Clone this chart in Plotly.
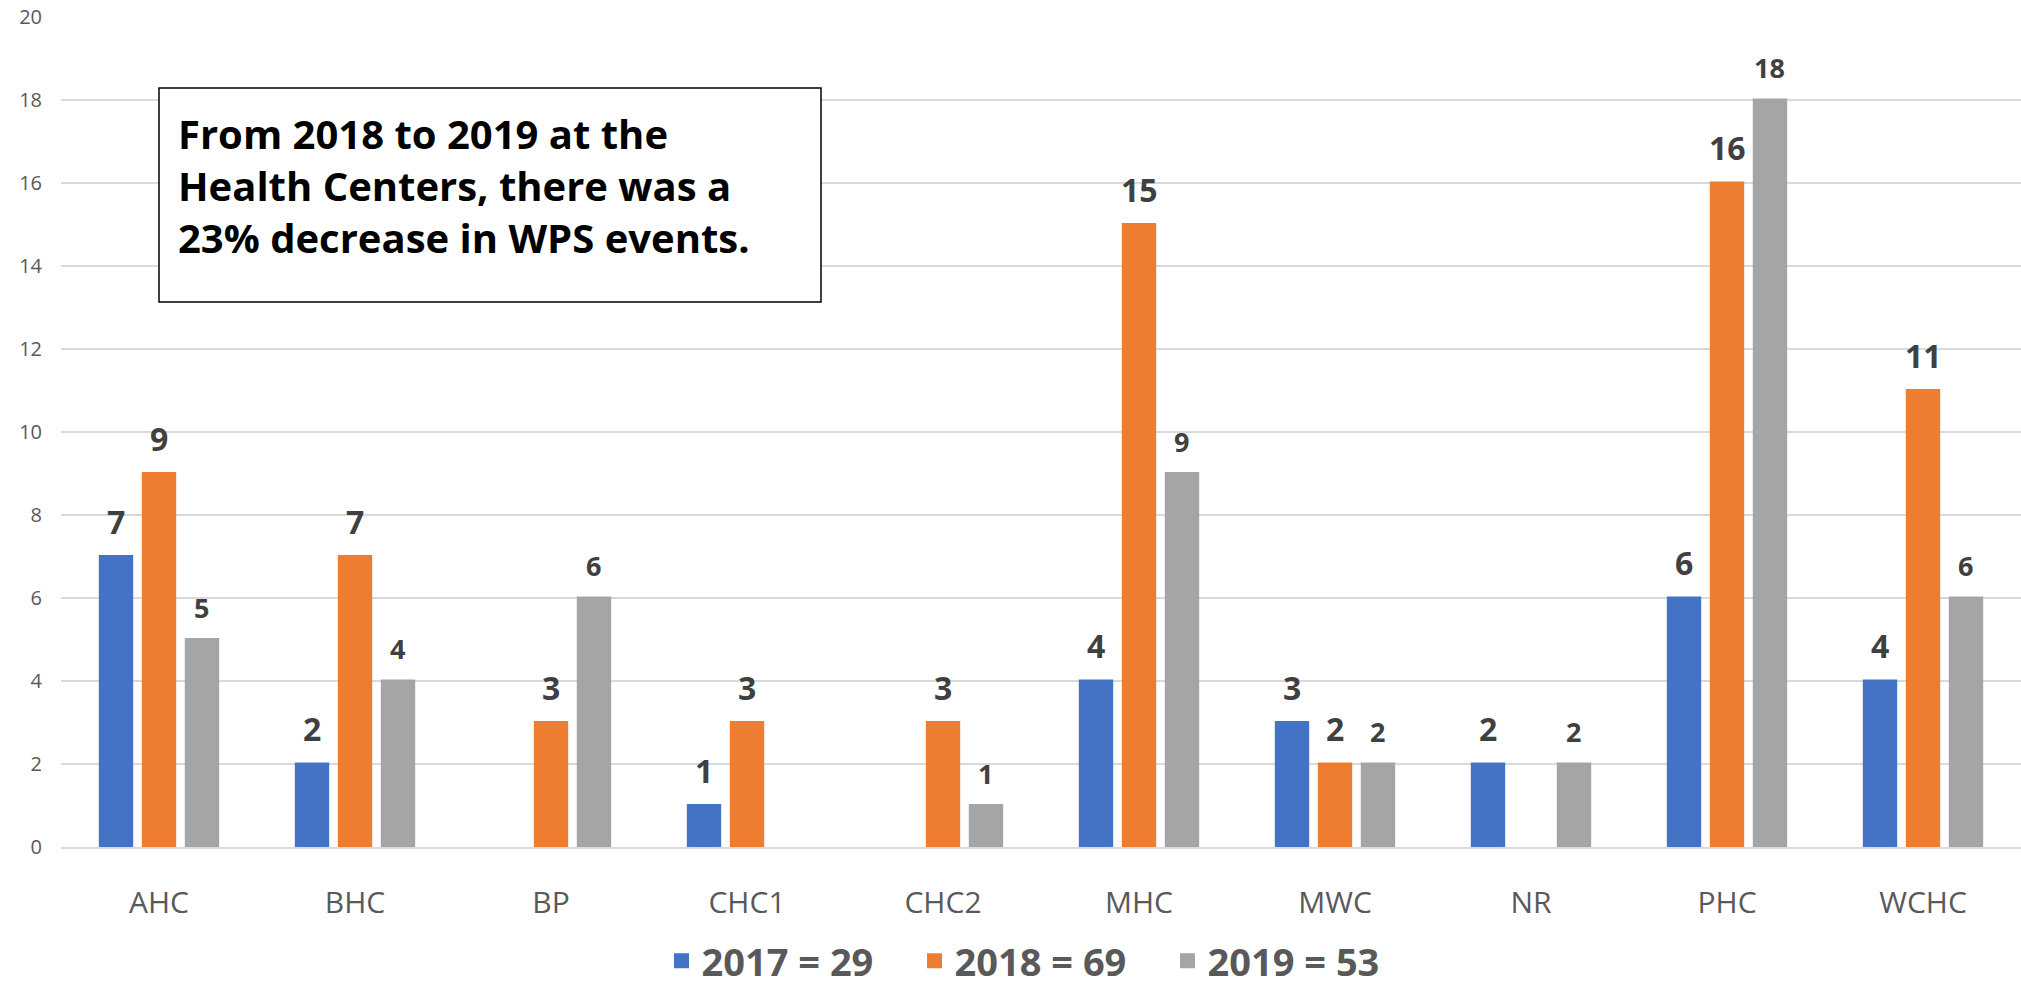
import plotly.graph_objects as go

categories = ["AHC", "BHC", "BP", "CHC1", "CHC2", "MHC", "MWC", "NR", "PHC", "WCHC"]
series_names = ["2017 = 29", "2018 = 69", "2019 = 53"]
values_2017 = [7, 2, None, 1, None, 4, 3, 2, 6, 4]
values_2018 = [9, 7, 3, 3, 3, 15, 2, None, 16, 11]
values_2019 = [5, 4, 6, None, 1, 9, 2, 2, 18, 6]
y_ticks = [0, 2, 4, 6, 8, 10, 12, 14, 16, 18, 20]
note_lines = ["From 2018 to 2019 at the", "Health Centers, there was a", "23% decrease in WPS events."]

colors = ["#4472C4", "#ED7D31", "#A5A5A5"]
label_sizes = [32, 32, 27]
all_values = [values_2017, values_2018, values_2019]

W, H = 2021, 986
BARGAP = 0.342
GROUPGAP = 0.27
OUTLINE = 3

fig = go.Figure()
for name, vals, col in zip(series_names, all_values, colors):
    fig.add_trace(go.Bar(
        x=categories, y=vals, name=name,
        marker=dict(color=col, line=dict(width=OUTLINE, color=col)),
        hoverinfo="x+y+name",
    ))

# data labels through axis scale
slot = (1 - BARGAP) / 3
annotations = []
for k, (vals, fs) in enumerate(zip(all_values, label_sizes)):
    for i, v in enumerate(vals):
        if v is None:
            continue
        annotations.append(dict(
            x=i + (k - 1) * slot, y=v, xref="x", yref="y",
            text=f"<b>{v}</b>", showarrow=False,
            yanchor="bottom", xanchor="center", yshift=12,
            font=dict(family="Open Sans", size=fs, color="#404040"),
        ))

# text box
annotations.append(dict(
    x=(176 - 61) / 1960, y=(847 - 104) / 830, xref="paper", yref="paper",
    xanchor="left", yanchor="top", align="left", showarrow=False,
    text="<br>".join(note_lines),
    font=dict(family="Open Sans", size=40, color="#000000", weight="bold"),
))

fig.update_layout(
    width=W, height=H,
    margin=dict(l=61, r=0, t=17, b=139, autoexpand=False),
    paper_bgcolor="white", plot_bgcolor="white",
    barmode="group", bargap=BARGAP, bargroupgap=GROUPGAP,
    font=dict(family="Open Sans", color="#595959"),
    showlegend=True,
    legend=dict(
        orientation="h", x=0.5, xanchor="center",
        yref="container", y=1 - 961 / 986, yanchor="middle",
        font=dict(family="Open Sans", size=38, color="#595959", weight="bold"),
        itemwidth=30, traceorder="normal",
        entrywidth=208, entrywidthmode="pixels",
    ),
    annotations=annotations,
    shapes=[dict(
        type="rect", xref="paper", yref="paper",
        x0=(159 - 61) / 1960, x1=(821 - 61) / 1960,
        y0=(847 - 302) / 830, y1=(847 - 88) / 830,
        line=dict(color="#000000", width=1.5), fillcolor="white", layer="above",
    )],
)
fig.update_xaxes(
    type="category", showgrid=False, showline=True, linecolor="#D9D9D9", linewidth=2,
    ticks="", tickfont=dict(size=30, color="#595959"), ticklabelstandoff=28,
    automargin=False,
)
fig.update_yaxes(
    range=[0, 20], tickvals=y_ticks, showgrid=True, gridcolor="#D9D9D9", gridwidth=2,
    zeroline=False, showline=False, ticks="",
    tickfont=dict(size=20, color="#595959"), ticklabelstandoff=18,
    automargin=False,
)

fig.write_html(
    "out.html",
    config={"displayModeBar": False},
    post_script="document.body.style.margin='0';document.body.style.overflow='hidden';",
)
